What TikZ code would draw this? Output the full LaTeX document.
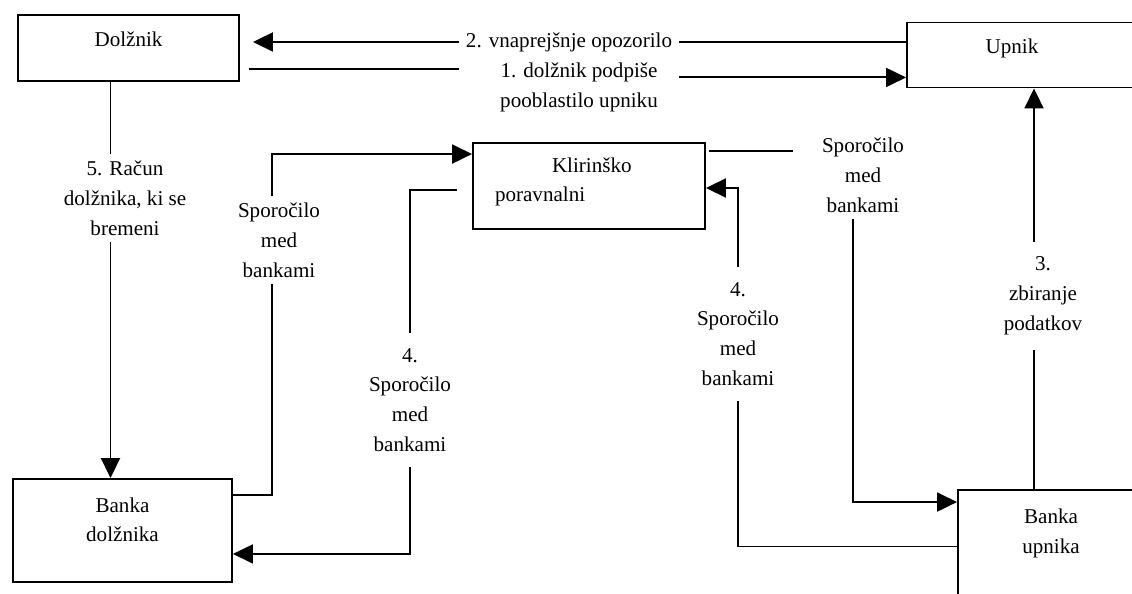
\documentclass[tikz,border=0pt]{standalone}
\usepackage{fontspec}
\setmainfont{Liberation Serif}
\usetikzlibrary{arrows.meta,calc}
\tikzset{
  box/.style={draw, line width=1.1pt, inner sep=0pt, align=center, text height=0.3cm},
  lbl/.style={align=center},
  arr/.style={-{Triangle[length=0.4cm,width=0.38cm]}}
}
\begin{document}
\begin{tikzpicture}[x=0.02cm, y=-0.02cm, line width=1.1pt, font=\fontsize{12pt}{17pt}\selectfont]
\useasboundingbox (0,0) rectangle (1132,594);
\clip (0,0) rectangle (1132,594);
%draw boxes
\node[box, minimum width=4.42cm, minimum height=1.32cm, text depth=0.34cm] (dolznik) at (128.5,48) {Dolžnik};
\node[box, minimum width=4.66cm, minimum height=1.30cm, text depth=0.34cm] (upnik) at (1023.5,55) {Upnik\hspace*{0.46cm}};
\node[box, minimum width=4.64cm, minimum height=1.72cm, text depth=0.86cm, text width=3.76cm, align=left] (klir) at (589,186) {\hspace*{1.14cm}Klirinško\\poravnalni};
\node[box, minimum width=4.38cm, minimum height=2.06cm, text height=0.46cm, text depth=0cm] (bankad) at (122.5,530.5) {Banka\\dolžnika};
\node[box, minimum width=3.72cm, minimum height=2.10cm, text height=0.42cm, text depth=0cm] (bankau) at (1051,542.5) {Banka\\upnika};
%draw labels
\node[lbl] (t2) at (569,42) {2. vnaprejšnje opozorilo};
\node[lbl] (t1) at (579,87) {1. dolžnik podpiše\\pooblastilo upniku};
\node[lbl] (t5) at (125,198) {5. Račun\\dolžnika, ki se\\bremeni};
\node[lbl] (s1) at (279,240) {Sporočilo\\med\\bankami};
\node[lbl, inner ysep=8pt] (t4a) at (410,400) {4.\\Sporočilo\\med\\bankami};
\node[lbl, inner ysep=8pt] (t4b) at (738,334) {4.\\Sporočilo\\med\\bankami};
\node[lbl] (s2) at (863,175) {Sporočilo\\med\\bankami};
\node[lbl, inner ysep=8pt] (t3) at (1043,296) {3.\\zbiranje\\podatkov};
% draw arrows between Dolžnik and Upnik
\draw (upnik.west |- t2) -- (t2);
\draw[arr, shorten >=0.26cm] (t2) -- (dolznik.east |- t2);
\draw ($(dolznik.south east)+(9,-13)$) coordinate (p1) -- (t2.west |- p1);
\coordinate (q1) at ($(upnik.south west)+(0,-11)$);
\draw[arr] (t2.east |- q1) -- (q1);
% 5. debit
\draw ($(dolznik.south)+(-18,0)$) coordinate (p5) -- (p5 |- t5.north);
\draw[arr] (p5 |- t5.south) -- (p5 |- bankad.north);
% messages between banks
\draw ($(bankad.north east)+(0,17)$) -| ($(s1.south)+(-7,0)$);
\draw[arr] ($(s1.north)+(-7,0)$) |- ($(klir.north west)+(0,12)$);
\draw[shorten <=0.3cm] ($(klir.west)+(0,4)$) -| (t4a.north);
\draw[arr] (t4a.south) |- ($(bankad.south east)+(0,-29)$);
\draw ($(bankau.west)+(0,4)$) -| (t4b.south);
\draw[arr] (t4b.north) |- ($(klir.east)+(0,2)$);
\draw[shorten >=0.44cm] ($(klir.north east)+(3,9)$) coordinate (p4) -- (s2.west |- p4);
\draw[arr] ($(s2.south)+(-10,0)$) |- ($(bankau.north west)+(0,13)$);
% 3. data
\draw ($(bankau.north)+(-17,0)$) coordinate (p3) -- (p3 |- t3.south);
\draw[arr] (p3 |- t3.north) -- (p3 |- upnik.south);
\end{tikzpicture}
\end{document}
